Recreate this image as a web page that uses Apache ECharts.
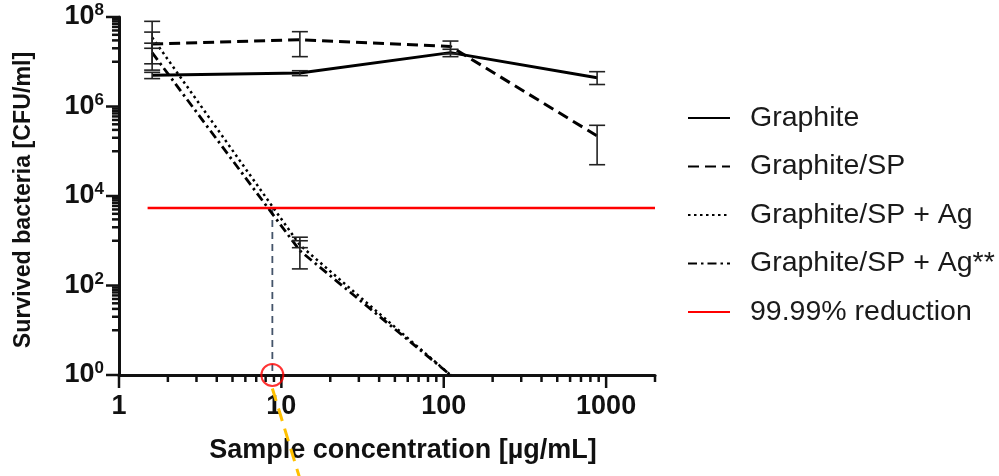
<!DOCTYPE html>
<html><head><meta charset="utf-8">
<script src="https://cdn.jsdelivr.net/npm/echarts@6/dist/echarts.min.js"></script>
<style>html,body{margin:0;padding:0;background:#fff}#c{width:999px;height:476px}</style>
</head><body><div id="c"></div>
<script>
// ---------- data ----------
const concentrations = [1.6, 13, 110, 880];            // µg/mL
const graphite      = [5.0e6, 5.6e6, 1.6e7, 4.4e6];
const graphiteLow   = [4.2e6, 4.9e6, 1.3e7, 3.1e6];
const graphiteHigh  = [5.8e6, 6.3e6, 1.9e7, 6.0e6];
const graphiteSP     = [2.5e7, 3.1e7, 2.2e7, 2.2e5];
const graphiteSPLow  = [9.0e6, 1.3e7, 1.5e7, 5.0e4];
const graphiteSPHigh = [8.0e7, 4.7e7, 2.9e7, 3.8e5];
const graphiteAg     = [3.5e7, 800, 1, null];
const graphiteAgLow  = [2.0e7, 700, null, null];
const graphiteAgHigh = [4.6e7, 1200, null, null];
const graphiteAg2     = [1.6e7, 600, 1, null];
const graphiteAg2Low  = [6.5e6, 235, null, null];
const graphiteAg2High = [2.6e7, 1000, null, null];
const reductionX = [1.5, 2000];
const reductionLevel = 5400;
const thresholdConc = 8.8;
const calloutX = [8.8, 14];
const calloutY = [0.5, 0.002];
const seriesNames = ['Graphite', 'Graphite/SP', 'Graphite/SP + Ag', 'Graphite/SP + Ag**', '99.99% reduction'];
const xMajorTicks = [1, 10, 100, 1000];
const xMinorTicks = [2,3,4,5,6,7,8,9,20,30,40,50,60,70,80,90,200,300,400,500,600,700,800,900,2000];
const yMajorTicks = [1, 1e2, 1e4, 1e6, 1e8];
const yMinorTicks = [10,20,30,40,50,60,70,80,90,
  1e3,2e3,3e3,4e3,5e3,6e3,7e3,8e3,9e3,
  1e5,2e5,3e5,4e5,5e5,6e5,7e5,8e5,9e5,
  1e7,2e7,3e7,4e7,5e7,6e7,7e7,8e7,9e7];

// ---------- helpers ----------
const FONT = 'Liberation Sans, Arial, sans-serif';
const INK = '#111';
const pairs = (xs, ys) => xs.map((x, i) => [x, ys[i]]).filter(d => d[1] != null);
const bars = (xs, lo, hi) => xs.map((x, i) => [x, lo[i], hi[i]]).filter(d => d[1] != null);
const isDecade = v => Math.abs(Math.log10(v) - Math.round(Math.log10(v))) < 1e-6;

function errRender(params, api) {
  const x = api.value(0), lo = api.value(1), hi = api.value(2);
  const a = api.coord([x, lo]), b = api.coord([x, hi]);
  const w = 8, st = {stroke: '#222', lineWidth: 1.6};
  return {type: 'group', children: [
    {type: 'line', shape: {x1: a[0], y1: a[1], x2: b[0], y2: b[1]}, style: st},
    {type: 'line', shape: {x1: a[0] - w, y1: a[1], x2: a[0] + w, y2: a[1]}, style: st},
    {type: 'line', shape: {x1: b[0] - w, y1: b[1], x2: b[0] + w, y2: b[1]}, style: st}
  ]};
}
function tickRender(params, api) {
  const kind = api.value(2);
  const p = api.coord([api.value(0), api.value(1)]);
  let shape;
  if (kind < 2) { const len = kind === 1 ? 13 : 7; shape = {x1: p[0] - len, y1: p[1], x2: p[0], y2: p[1]}; }
  else { const len = kind === 3 ? 13 : 7; shape = {x1: p[0], y1: p[1], x2: p[0], y2: p[1] + len}; }
  return {type: 'line', shape, style: {stroke: INK, lineWidth: 2.5}};
}
const tickData = [].concat(
  yMinorTicks.map(v => [1, v, 0]),
  yMajorTicks.map(v => [1, v, 1]),
  xMinorTicks.map(v => [v, 1, 2]),
  xMajorTicks.map(v => [v, 1, 3])
);

function errSeries(name, lo, hi) {
  return {name: name + ' err', type: 'custom', renderItem: errRender, data: bars(concentrations, lo, hi),
    encode: {x: 0, y: [1, 2]}, z: 4, silent: true, clip: false};
}

const option = {
  animation: false,
  backgroundColor: '#fff',
  grid: {left: 119, right: 344, top: 17, bottom: 101, containLabel: false, outerBoundsMode: 'none'},
  legend: {
    orient: 'vertical', left: 682, top: 98, itemWidth: 42, itemHeight: 14, itemGap: 18.5,
    selectedMode: false, data: seriesNames,
    itemStyle: {opacity: 0},
    textStyle: {fontFamily: FONT, fontSize: 28.5, color: '#1a1a1a', padding: [0, 0, 0, 15], lineHeight: 30}
  },
  xAxis: {
    type: 'log', logBase: 10, min: 1, max: 2000,
    axisLine: {onZero: false, lineStyle: {color: INK, width: 3}},
    axisTick: {show: false}, minorTick: {show: false}, splitLine: {show: false},
    axisLabel: {fontFamily: FONT, fontSize: 27, fontWeight: 'bold', color: INK, margin: 18, hideOverlap: false,
      formatter: v => isDecade(v) && v < 1500 ? String(Math.round(v)) : ''},
    name: 'Sample concentration [µg/mL]', nameLocation: 'middle', nameGap: 62,
    nameTextStyle: {fontFamily: FONT, fontSize: 27, fontWeight: 'bold', color: INK, padding: [0, 0, 0, 32]}
  },
  yAxis: {
    type: 'log', logBase: 10, min: 1, max: 1e8,
    axisLine: {onZero: false, lineStyle: {color: INK, width: 3}},
    axisTick: {show: false}, minorTick: {show: false}, splitLine: {show: false},
    axisLabel: {margin: 15, hideOverlap: false,
      formatter: v => {
        if (!isDecade(v)) return '';
        const e = Math.round(Math.log10(v));
        return e % 2 ? '' : '{b|10}{s|' + e + '}';
      },
      rich: {
        b: {fontFamily: FONT, fontSize: 27, fontWeight: 'bold', color: INK, lineHeight: 30},
        s: {fontFamily: FONT, fontSize: 17, fontWeight: 'bold', color: INK, verticalAlign: 'top', lineHeight: 17}
      }},
    name: 'Survived bacteria [CFU/ml]', nameLocation: 'middle', nameGap: 84,
    nameTextStyle: {fontFamily: FONT, fontSize: 23.2, fontWeight: 'bold', color: INK, padding: [0, 8, 0, 0]}
  },
  series: [
    {name: 'axis ticks', type: 'custom', renderItem: tickRender, data: tickData, encode: {x: 0, y: 1},
      silent: true, clip: false, z: 1},
    {name: seriesNames[0], type: 'line', data: pairs(concentrations, graphite), symbol: 'none', z: 3,
      lineStyle: {color: '#000', width: 3, type: 'solid'}, itemStyle: {color: '#000'}},
    {name: seriesNames[1], type: 'line', data: pairs(concentrations, graphiteSP), symbol: 'none', z: 3,
      lineStyle: {color: '#000', width: 3, type: [11, 6]}, itemStyle: {color: '#000'}},
    {name: seriesNames[2], type: 'line', data: pairs(concentrations, graphiteAg), symbol: 'none', z: 3,
      lineStyle: {color: '#000', width: 2.5, type: [2.5, 3.5]}, itemStyle: {color: '#000'}},
    {name: seriesNames[3], type: 'line', data: pairs(concentrations, graphiteAg2), symbol: 'none', z: 3,
      lineStyle: {color: '#000', width: 2.8, type: [9, 4, 2.5, 4]}, itemStyle: {color: '#000'}},
    {name: seriesNames[4], type: 'line', data: reductionX.map(x => [x, reductionLevel]), symbol: 'none', z: 3,
      lineStyle: {color: '#FF0000', width: 2.5}, itemStyle: {color: '#FF0000'}},
    errSeries(seriesNames[0], graphiteLow, graphiteHigh),
    errSeries(seriesNames[1], graphiteSPLow, graphiteSPHigh),
    errSeries(seriesNames[2], graphiteAgLow, graphiteAgHigh),
    errSeries(seriesNames[3], graphiteAg2Low, graphiteAg2High),
    {name: 'threshold guide', type: 'line', data: [[thresholdConc, reductionLevel], [thresholdConc, 1]],
      symbol: 'none', z: 2, silent: true, lineStyle: {color: '#44546A', width: 1.8, type: [7, 5]}},
    {name: 'threshold mark', type: 'scatter', data: [[thresholdConc, 1]], symbol: 'circle', symbolSize: 22,
      z: 6, silent: true, clip: false,
      itemStyle: {color: 'rgba(0,0,0,0)', borderColor: '#FF0000', borderWidth: 2}},
    {name: 'callout', type: 'line', data: pairs(calloutX, calloutY), symbol: 'none', z: 6, silent: true, clip: false,
      lineStyle: {color: '#FFC000', width: 3, type: [13, 8]}}
  ]
};
const chart = echarts.init(document.getElementById('c'));
chart.setOption(option);
</script>
</body></html>
